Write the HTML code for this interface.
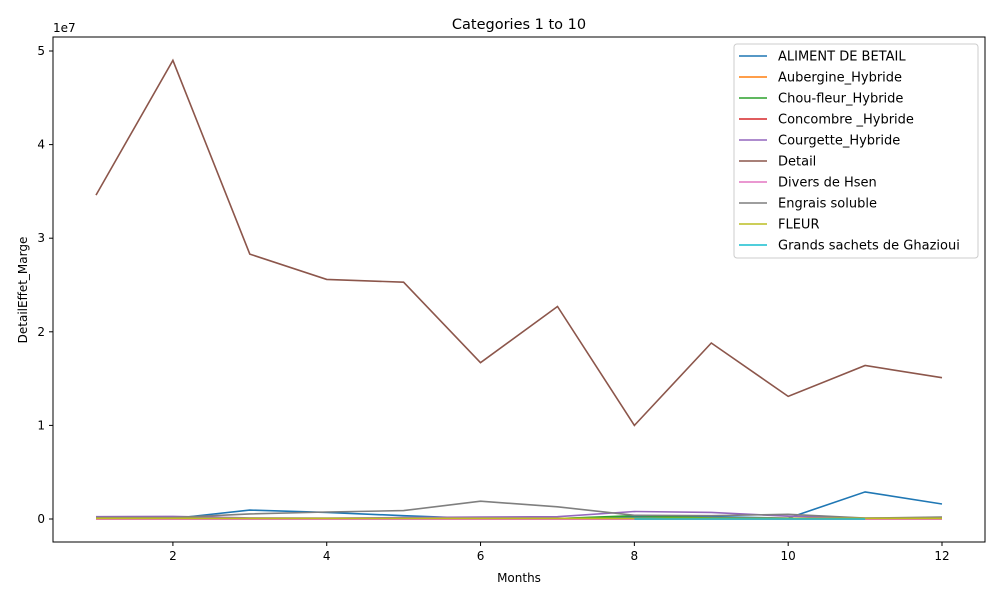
<!DOCTYPE html>
<html><head><meta charset="utf-8"><style>
body{margin:0;background:#fff;font-family:"DejaVu Sans","Liberation Sans",sans-serif}
svg text{font-family:"DejaVu Sans","Liberation Sans",sans-serif}
</style></head><body>
<svg id="chart" width="1000" height="600" xmlns="http://www.w3.org/2000/svg"></svg>
<script>
const months=[1,2,3,4,5,6,7,8,9,10,11,12];
const seriesNames=["ALIMENT DE BETAIL","Aubergine_Hybride","Chou-fleur_Hybride","Concombre _Hybride","Courgette_Hybride","Detail","Divers de Hsen","Engrais soluble","FLEUR","Grands sachets de Ghazioui"];
const colors=["#1f77b4","#ff7f0e","#2ca02c","#d62728","#9467bd","#8c564b","#e377c2","#7f7f7f","#bcbd22","#17becf"];
const aliment=[0.05,0.05,0.95,0.7,0.35,0.05,0.05,0.25,0.25,0.1,2.9,1.6];
const aubergine=[0.02,0.02,0.02,0.02,0.02,0.02,0.02,0.02,0.02,0.02,0.02,0.02];
const choufleur=[0.03,0.03,0.03,0.03,0.03,0.03,0.05,0.35,0.1,0.05,0.05,0.05];
const concombre=[0,0,0,0,0,0,0,0,0,0,0,0];
const courgette=[0.25,0.28,0.12,0.1,0.15,0.2,0.25,0.8,0.7,0.3,0.1,0.1];
const detail=[34.6,49.0,28.3,25.6,25.3,16.7,22.7,10.0,18.8,13.1,16.4,15.1];
const divers=[0.01,0.01,0.01,0.01,0.01,0.01,0.01,0.01,0.01,0.01,0.01,0.01];
const engrais=[0.15,0.15,0.55,0.75,0.9,1.9,1.3,0.4,0.35,0.5,0.1,0.2];
const fleur=[0.08,0.08,0.08,0.08,0.08,0.08,0.08,0.08,0.08,0.08,0.08,0.08];
const grands=[null,null,null,null,null,null,null,0,0,0,0,null];
const allSeries=[aliment,aubergine,choufleur,concombre,courgette,detail,divers,engrais,fleur,grands];
const xTicks=[2,4,6,8,10,12];
const yTicks=[0,1,2,3,4,5];

const svg=document.getElementById('chart');
const NS="http://www.w3.org/2000/svg";
function mk(t,a,p){const e=document.createElementNS(NS,t);for(const k in a)e.setAttribute(k,a[k]);(p||svg).appendChild(e);return e;}
const L=53,R=985,T=37,B=542;
const xs=v=>96+(v-1)*(942-96)/11;
const ys=v=>519-v*(519-51)/50; // v in millions

let e=mk('rect',{x:L,y:T,width:R-L,height:B-T,fill:'none',stroke:'#000','stroke-width':1});



xTicks.forEach(t=>{
  mk('line',{x1:xs(t),x2:xs(t),y1:B,y2:B+4,stroke:'#000'});
  e=mk('text',{x:xs(t),y:B+18,'text-anchor':'middle','font-size':12});e.textContent=t;
  
  
});
yTicks.forEach(t=>{
  const y=ys(t*10);
  mk('line',{x1:L-4,x2:L,y1:y,y2:y,stroke:'#000'});
  e=mk('text',{x:L-8,y:y+4,'text-anchor':'end','font-size':12});e.textContent=t;
  
  
});
e=mk('text',{x:L,y:32,'font-size':12});e.textContent='1e7';


e=mk('text',{x:519,y:29,'text-anchor':'middle','font-size':14.5});e.textContent='Categories 1 to 10';


e=mk('text',{x:519,y:582,'text-anchor':'middle','font-size':12});e.textContent='Months';


e=mk('text',{x:27,y:290,'text-anchor':'middle','font-size':12,transform:'rotate(-90 27 290)'});e.textContent='DetailEffet_Marge';



allSeries.forEach((s,i)=>{
  let d='',pen=false;
  s.forEach((v,j)=>{
    if(v===null){pen=false;return;}
    d+=(pen?'L':'M')+xs(months[j]).toFixed(1)+','+ys(v).toFixed(1);pen=true;
  });
  const p=mk('path',{d:d,fill:'none',stroke:colors[i],'stroke-width':1.6});
  
  
});

const lg=mk('g',{});


mk('rect',{x:734,y:44,width:244,height:214,rx:3,fill:'#fff',stroke:'#ccc'},lg);
seriesNames.forEach((n,i)=>{
  const y=56+i*21;
  const g=mk('g',{},lg);
  
  
  mk('line',{x1:739,x2:767,y1:y,y2:y,stroke:colors[i],'stroke-width':1.6},g);
  const t=mk('text',{x:778,y:y+4.5,'font-size':13},g);t.textContent=n;
});
</script>
</body></html>
